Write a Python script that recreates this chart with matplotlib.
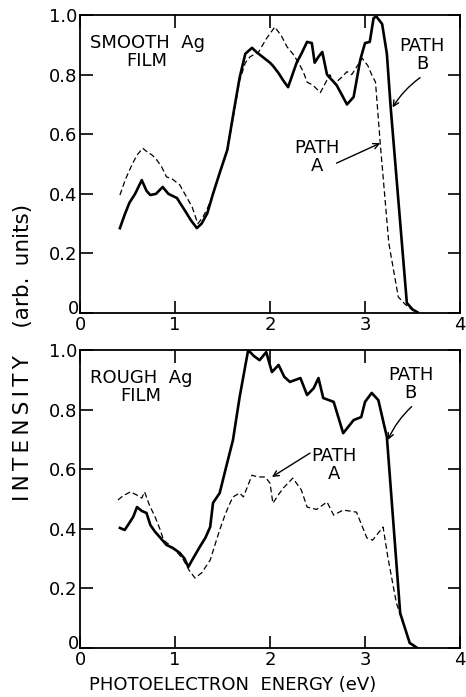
import matplotlib
matplotlib.use('Agg')
import matplotlib.pyplot as plt

# ---- data (energy in eV, intensity arb. units) ----
smooth_b_x = [0.42, 0.47, 0.52, 0.58, 0.65, 0.70, 0.74, 0.80, 0.87, 0.93, 1.02, 1.10, 1.17, 1.23,
              1.28, 1.34, 1.40, 1.47, 1.55, 1.62, 1.68, 1.74, 1.81, 1.86, 1.90, 1.96, 2.00, 2.03,
              2.09, 2.14, 2.19, 2.28, 2.33, 2.39, 2.44, 2.47, 2.51, 2.55, 2.60, 2.70, 2.76, 2.81,
              2.88, 2.95, 3.00, 3.05, 3.09, 3.12, 3.18, 3.23, 3.27, 3.44, 3.50, 3.55]
smooth_b_y = [0.285, 0.33, 0.37, 0.40, 0.446, 0.41, 0.396, 0.40, 0.423, 0.40, 0.386, 0.346, 0.31, 0.285,
              0.30, 0.335, 0.40, 0.47, 0.547, 0.68, 0.79, 0.87, 0.89, 0.875, 0.865, 0.85, 0.84, 0.83,
              0.805, 0.78, 0.758, 0.84, 0.87, 0.91, 0.906, 0.84, 0.86, 0.876, 0.80, 0.765, 0.73, 0.70,
              0.725, 0.85, 0.906, 0.91, 0.99, 0.995, 0.97, 0.87, 0.69, 0.034, 0.012, 0.003]

smooth_a_x = [0.42, 0.48, 0.55, 0.60, 0.66, 0.71, 0.76, 0.81, 0.86, 0.91, 0.97, 1.05, 1.12, 1.18,
              1.24, 1.29, 1.34, 1.40, 1.47, 1.55, 1.62, 1.68, 1.74, 1.79, 1.88, 1.96, 2.05, 2.12,
              2.18, 2.24, 2.30, 2.35, 2.39, 2.45, 2.53, 2.58, 2.63, 2.68, 2.75, 2.81, 2.86, 2.92,
              2.97, 3.03, 3.07, 3.11, 3.16, 3.25, 3.35, 3.42, 3.50, 3.55]
smooth_a_y = [0.396, 0.45, 0.50, 0.53, 0.553, 0.54, 0.53, 0.513, 0.49, 0.457, 0.45, 0.43, 0.39, 0.356,
              0.30, 0.32, 0.35, 0.40, 0.47, 0.545, 0.67, 0.78, 0.84, 0.86, 0.876, 0.92, 0.96, 0.93,
              0.893, 0.87, 0.84, 0.81, 0.775, 0.765, 0.74, 0.77, 0.80, 0.77, 0.79, 0.81, 0.80, 0.83,
              0.855, 0.83, 0.80, 0.775, 0.57, 0.235, 0.054, 0.03, 0.01, 0.003]

rough_b_x = [0.42, 0.47, 0.52, 0.56, 0.60, 0.65, 0.70, 0.74, 0.79, 0.84, 0.91, 0.98, 1.05, 1.10,
             1.14, 1.18, 1.26, 1.32, 1.37, 1.40, 1.47, 1.54, 1.61, 1.68, 1.77, 1.83, 1.89, 1.96,
             2.02, 2.09, 2.15, 2.21, 2.32, 2.39, 2.46, 2.51, 2.56, 2.67, 2.77, 2.88, 2.96, 3.00,
             3.07, 3.14, 3.23, 3.37, 3.47, 3.55]
rough_b_y = [0.403, 0.396, 0.42, 0.44, 0.473, 0.46, 0.453, 0.413, 0.39, 0.372, 0.346, 0.335, 0.319, 0.30,
             0.272, 0.295, 0.339, 0.37, 0.406, 0.487, 0.52, 0.61, 0.698, 0.842, 1.0, 0.98, 0.966, 0.993,
             0.926, 0.95, 0.91, 0.893, 0.906, 0.849, 0.872, 0.906, 0.839, 0.826, 0.721, 0.765, 0.775, 0.826,
             0.856, 0.832, 0.708, 0.117, 0.017, 0.0]

rough_a_x = [0.40, 0.45, 0.53, 0.60, 0.65, 0.68, 0.73, 0.79, 0.84, 0.88, 0.98, 1.04, 1.09, 1.15,
             1.21, 1.28, 1.37, 1.47, 1.53, 1.58, 1.61, 1.68, 1.72, 1.81, 1.87, 1.95, 2.00, 2.03,
             2.09, 2.14, 2.24, 2.33, 2.39, 2.49, 2.60, 2.67, 2.77, 2.91, 3.02, 3.08, 3.19, 3.24,
             3.33, 3.40, 3.47, 3.55]
rough_a_y = [0.497, 0.51, 0.524, 0.513, 0.503, 0.524, 0.48, 0.44, 0.40, 0.362, 0.336, 0.315, 0.295, 0.26,
             0.235, 0.252, 0.295, 0.396, 0.45, 0.487, 0.507, 0.520, 0.507, 0.58, 0.574, 0.574, 0.553, 0.486,
             0.515, 0.537, 0.57, 0.53, 0.473, 0.465, 0.49, 0.446, 0.463, 0.456, 0.369, 0.362, 0.406, 0.305,
             0.151, 0.084, 0.02, 0.0]

x_ticks = [0, 1, 2, 3, 4]
x_labels = ['0', '1', '2', '3', '4']
y_ticks = [0, 0.2, 0.4, 0.6, 0.8, 1.0]
y_labels = ['', '0.2', '0.4', '0.6', '0.8', '1.0']   # y zero drawn by hand, nudged up

plt.rcParams['font.family'] = ['DejaVu Sans']

fig = plt.figure(figsize=(4.66, 6.97), dpi=100)
ax_top = fig.add_axes([0.1717, 0.5509, 0.8155, 0.4275])
ax_bot = fig.add_axes([0.1717, 0.0703, 0.8155, 0.4275])

panels = [
    (ax_top, smooth_b_x, smooth_b_y, smooth_a_x, smooth_a_y, 'SMOOTH  Ag\nFILM',
     (3.60, 0.866), (3.58, 0.79), (3.29, 0.69),
     (2.49, 0.524), (2.70, 0.503), (3.16, 0.57)),
    (ax_bot, rough_b_x, rough_b_y, rough_a_x, rough_a_y, 'ROUGH  Ag\nFILM',
     (3.48, 0.886), (3.49, 0.81), (3.24, 0.698),
     (2.67, 0.614), (2.42, 0.654), (2.02, 0.574)),
]

for ax, bx, by, axx, ay, film, b_txt, b_from, b_tip, a_txt, a_from, a_tip in panels:
    ax.plot(axx, ay, color='black', lw=0.9, ls=(0, (4.5, 2.5)))
    ax.plot(bx, by, color='black', lw=1.9, solid_joinstyle='round')
    ax.set_xlim(0, 4)
    ax.set_ylim(0, 1.0)
    ax.set_xticks(x_ticks)
    ax.set_xticklabels(x_labels)
    ax.set_yticks(y_ticks)
    ax.set_yticklabels(y_labels)
    ax.tick_params(direction='in', length=9, width=1.2, top=True, right=True,
                   labelsize=13, pad=2)
    ax.annotate('0', xy=(0, 0), xycoords='axes fraction', xytext=(-1, 4),
                textcoords='offset pixels', ha='right', va='center', fontsize=13)
    for sp in ax.spines.values():
        sp.set_linewidth(1.3)

    ax.text(0.1, 0.935, film, fontsize=13, ha='left', va='top', multialignment='center',
            linespacing=1.0)
    ax.text(b_txt[0], b_txt[1], 'PATH\nB', fontsize=13, ha='center', va='center',
            linespacing=1.0)
    ax.text(a_txt[0], a_txt[1], 'PATH\nA', fontsize=13, ha='center', va='center',
            linespacing=1.0)
    ax.annotate('', xy=b_tip, xytext=b_from,
                arrowprops=dict(arrowstyle='->', color='black', lw=1.0,
                                connectionstyle='arc3,rad=0.1', shrinkA=0, shrinkB=0))
    ax.annotate('', xy=a_tip, xytext=a_from,
                arrowprops=dict(arrowstyle='->', color='black', lw=1.0, shrinkA=0, shrinkB=0))

fig.text(0.5, 0.004, 'PHOTOELECTRON  ENERGY (eV)', fontsize=13, ha='center', va='bottom')
fig.text(0.05, 0.494, 'I\u2009N\u2009T\u2009E\u2009N\u2009S\u2009I\u2009T\u2009Y    (arb.\u2009 units)',
         fontsize=15.5, rotation=90, ha='center', va='center')

fig.savefig('out.png', dpi=100)
plt.close(fig)
